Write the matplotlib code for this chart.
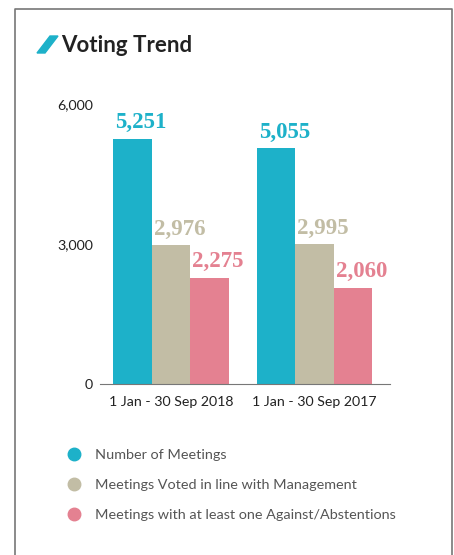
import numpy as np
import matplotlib
matplotlib.use("Agg")
import matplotlib.pyplot as plt
from matplotlib.lines import Line2D
from matplotlib.patches import Polygon

periods = ["1 Jan - 30 Sep 2018", "1 Jan - 30 Sep 2017"]
series = ["Number of Meetings",
          "Meetings Voted in line with Management",
          "Meetings with at least one Against/Abstentions"]
meetings = [5251, 5055]
with_mgmt = [2976, 2995]
against = [2275, 2060]
colors = ["#1db1c9", "#c2bda5", "#e48191"]
yticks = [0, 3000, 6000]

fig = plt.figure(figsize=(4.54, 5.55), dpi=100)

# outer frame (no bottom edge)
W, H = 454., 555.
def fx(px): return px / W
def fy(py): return 1 - py / H
fig.add_artist(Line2D([fx(15), fx(15), fx(452), fx(452)], [0, fy(9), fy(9), 0],
                      color="#777777", lw=1.2, transform=fig.transFigure))

# title slash + text
fig.add_artist(Polygon([(fx(37), fy(53)), (fx(45), fy(53)), (fx(58), fy(36)), (fx(50), fy(36))],
                       closed=True, color=colors[0], transform=fig.transFigure))
fig.text(fx(61), fy(45), "Voting Trend", fontsize=16, fontweight="bold", family="Lato",
         color="#222222", va="center", ha="left")

ax = fig.add_axes([fx(100), fy(384), fx(390) - fx(100), (384 - 104) / H])
x = np.arange(len(periods))
w = 0.268
for i, vals in enumerate([meetings, with_mgmt, against]):
    pos = x + (i - 1) * w
    ax.bar(pos, vals, width=w, color=colors[i], label=series[i])
    for p, v in zip(pos, vals):
        ax.annotate(f"{v:,}", (p - w / 2, v), xytext=(1.5, 4), textcoords="offset points",
                    ha="left", va="bottom", fontsize=16.5, fontweight="bold",
                    family="Liberation Serif", color=colors[i])

ax.set_xlim(-0.495, 1.526)
ax.set_ylim(0, 6000)
ax.set_yticks(yticks)
ax.set_yticklabels([f"{t:,}" for t in yticks])
ax.set_xticks(x)
ax.set_xticklabels(periods)
for s in ["top", "right", "left"]:
    ax.spines[s].set_visible(False)
ax.spines["bottom"].set_color("#777777")
ax.tick_params(axis="y", length=0, labelsize=10.3, colors="#222222", pad=5)
ax.tick_params(axis="x", length=0, labelsize=10.2, colors="#222222", pad=9)
for lab in ax.get_xticklabels() + ax.get_yticklabels():
    lab.set_family("Lato")

handles = [Line2D([], [], marker="o", ls="", ms=9, color=c) for c in colors]
leg = fig.legend(handles, series, loc="upper left", bbox_to_anchor=(fx(47), fy(436)),
                 frameon=False, handletextpad=0.4, labelspacing=1.25,
                 prop={"family": "Lato", "size": 10.4})
for t in leg.get_texts():
    t.set_color("#555555")

fig.savefig("out.png", dpi=100)
